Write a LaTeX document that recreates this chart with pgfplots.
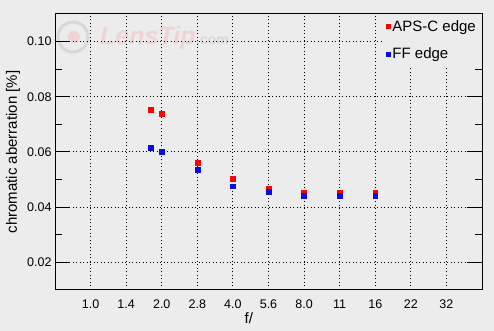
\documentclass[border=0pt]{standalone}
\usepackage{fontspec}
\setmainfont{Liberation Sans}
\usepackage{pgfplots}
\pgfplotsset{compat=1.18}
\definecolor{bg}{RGB}{236,236,236}
\definecolor{mred}{RGB}{255,0,0}
\definecolor{mblue}{RGB}{10,10,225}
\definecolor{wmpink}{RGB}{240,212,212}
\definecolor{wmgray}{RGB}{216,216,216}
\begin{document}
\begin{tikzpicture}[x=1pt,y=1pt]
\fill[bg] (0,0) rectangle (494,331);
\useasboundingbox (0,0) rectangle (494,331);
% faint watermark
\draw[wmgray, line width=3pt] (73,294) circle (15);
\fill[wmpink] (74,294) circle (6);
\node[anchor=base west, inner sep=0, text=wmpink, font=\fontsize{25}{25}\selectfont\bfseries\itshape] at (100,286) {LensTip};
\node[anchor=base west, inner sep=0, text=wmgray, font=\fontsize{14}{14}\selectfont\bfseries] at (196,286) {.com};
\begin{axis}[
  at={(55pt,41pt)}, anchor=south west,
  scale only axis, width=427pt, height=276pt,
  xmin=-1, xmax=11, ymin=0.01, ymax=0.11,
  xtick={0,...,10},
  xticklabels={1.0,1.4,2.0,2.8,4.0,5.6,8.0,11,16,22,32},
  ytick={0.02,0.04,0.06,0.08,0.10},
  yticklabels={0.02,0.04,0.06,0.08,0.10},
  minor ytick={0.03,0.05,0.07,0.09},
  tick align=inside,
  major tick length=15pt,
  minor tick length=7pt,
  xtick style={draw=none},
  ytick style={black, line width=1pt},
  axis line style={black, line width=1pt},
  xmajorgrids, ymajorgrids,
  major grid style={black, line width=1pt, dash pattern=on 1pt off 2.5pt},
  tick label style={font=\fontsize{12.5}{14}\selectfont},
  xticklabel style={yshift=-6pt},
  ylabel={chromatic aberration [\%]},
  xlabel={f/},
  label style={font=\fontsize{15}{17}\selectfont},
  ylabel style={at={(axis description cs:-0.0984,0.5)}, anchor=center},
  xlabel style={at={(axis description cs:0.454,-0.101)}, anchor=center},
  legend style={at={(1,1)}, anchor=north east, draw=none, fill=bg,
    font=\fontsize{15}{17}\selectfont, row sep=11pt,
    inner xsep=4pt, inner ysep=4pt},
  legend cell align=left,
  legend image code/.code={\draw[#1, mark size=2pt] plot coordinates {(0pt,0pt)};},
]
\addplot[only marks, mark=square*, mark size=2.4pt, mark options={draw=mred, fill=mred}]
  coordinates {(1.696,0.0753) (2,0.0738) (3,0.0560) (4,0.0503) (5,0.0468) (6,0.0454) (7,0.0454) (8,0.0454)};
\addlegendentry{APS-C edge}
\addplot[only marks, mark=square*, mark size=2.4pt, mark options={draw=mblue, fill=mblue}]
  coordinates {(1.696,0.0615) (2,0.0600) (3,0.0535) (4,0.0476) (5,0.0457) (6,0.0443) (7,0.0443) (8,0.0443)};
\addlegendentry{FF edge}
\end{axis}
\end{tikzpicture}
\end{document}
